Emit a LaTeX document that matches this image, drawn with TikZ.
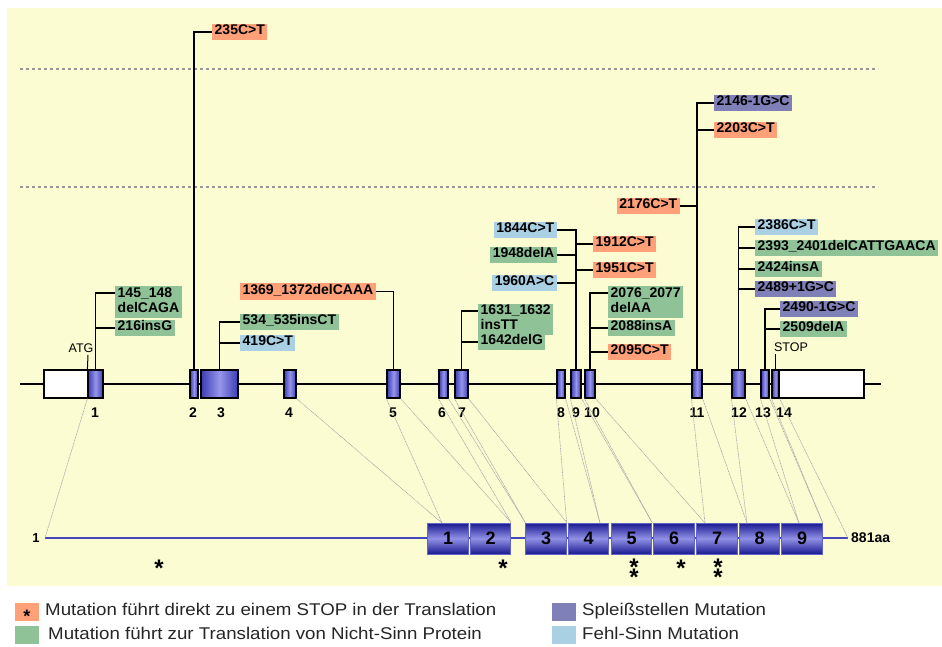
\documentclass[tikz,border=0pt]{standalone}
\usepackage{fontspec}
\usepackage{graphicx}
\setmainfont{Liberation Sans}
\usetikzlibrary{calc}
\definecolor{bgY}{RGB}{252,252,210}
\definecolor{cOr}{RGB}{255,160,120}
\definecolor{cGr}{RGB}{144,194,152}
\definecolor{cPu}{RGB}{128,128,184}
\definecolor{cBl}{RGB}{170,208,228}
\definecolor{exD}{RGB}{60,60,180}
\definecolor{exL}{RGB}{150,150,235}
\definecolor{prD}{RGB}{25,25,145}
\definecolor{prL}{RGB}{145,145,230}
\definecolor{prBd}{RGB}{100,100,200}
\definecolor{prLine}{RGB}{70,70,190}
\definecolor{dotG}{RGB}{165,165,165}
\definecolor{dashG}{RGB}{150,150,150}
\newcommand\mlabfont{\fontsize{14}{14}\selectfont\bfseries}
\newcommand\mnumfont{\fontsize{14}{14}\selectfont\bfseries}
\newcommand\mlegtext[1]{\scalebox{1.1}[1]{#1}}
\newcommand\mtwostars{\makebox[0pt]{*}\makebox[0pt]{\raisebox{-10pt}{*}}}
\begin{document}
\begin{tikzpicture}[x=1pt,y=-1pt,
  lab/.style={anchor=west, inner xsep=2.5pt, inner ysep=1pt, font=\mlabfont, execute at begin node=\strut},
  labE/.style={lab, anchor=east},
  labtwo/.style={anchor=west, inner xsep=2.5pt, inner ysep=1pt, font=\mlabfont, align=left},
  conn/.style={draw=black, line width=1.8pt},
  geneline/.style={draw=black, line width=1.5pt},
  exon/.style={draw=black, line width=1.2pt, minimum height=28pt, inner sep=0pt, left color=exD, right color=exD, middle color=exL},
  utr/.style={draw=black, line width=1.2pt, fill=white, minimum height=28pt, inner sep=0pt},
  enum/.style={font=\mnumfont, inner sep=0pt},
  small/.style={font=\fontsize{12.5}{12.5}\selectfont, inner sep=0pt},
  dashl/.style={draw=dashG, line width=1.5pt, dash pattern=on 3pt off 3pt},
  mapl/.style={draw=dotG, line width=0.6pt, dash pattern=on 1pt off 0.6pt},
  pbox/.style={draw=prBd, line width=0.8pt, minimum width=40.5pt, minimum height=31pt, inner sep=0pt, top color=prD, bottom color=prD, middle color=prL, font=\fontsize{18}{18}\selectfont\bfseries},
  protl/.style={draw=prLine, line width=2pt},
  astx/.style={font=\fontsize{24}{24}\selectfont\bfseries, anchor=base, inner sep=0pt},
  legsq/.style={minimum width=24pt, minimum height=18pt, inner sep=0pt},
  legtxt/.style={anchor=west, inner sep=0pt, font=\fontsize{17}{17}\selectfont, text=black!85, text height=12pt, text depth=4pt}
]
\useasboundingbox (0,0) rectangle (942,646);
\fill[white] (0,0) rectangle (942,646);
\fill[bgY] (7,8) rectangle (942,586);

% dashed guide lines
\coordinate (d1L) at (20,69); \coordinate (d1R) at (878,69);
\coordinate (d2L) at (20,187); \coordinate (d2R) at (878,187);
\draw[dashl] (d1L) -- (d1R);
\draw[dashl] (d2L) -- (d2R);

% gene line
\coordinate (gL) at (20,384); \coordinate (gR) at (881,384);
\draw[geneline] (gL) -- (gR);

% exons
\node[utr, minimum width=44pt] (u5) at (66,384) {};
\node[exon, minimum width=15pt] (e1) at (95.5,384) {};
\node[exon, minimum width=8pt] (e2) at (194,384) {};
\node[exon, minimum width=37pt] (e3) at (219.5,384) {};
\node[exon, minimum width=12pt] (e4) at (290,384) {};
\node[exon, minimum width=13pt] (e5) at (393.5,384) {};
\node[exon, minimum width=9pt] (e6) at (443.5,384) {};
\node[exon, minimum width=13pt] (e7) at (461.5,384) {};
\node[exon, minimum width=8pt] (e8) at (561,384) {};
\node[exon, minimum width=10pt] (e9) at (576,384) {};
\node[exon, minimum width=10pt] (e10) at (590,384) {};
\node[exon, minimum width=10pt] (e11) at (697,384) {};
\node[exon, minimum width=13pt] (e12) at (738.5,384) {};
\node[exon, minimum width=8pt] (e13) at (765,384) {};
\node[utr, minimum width=85pt] (u3) at (821.5,384) {};
\node[exon, minimum width=7pt] (e14) at (775.5,384) {};

% exon numbers
\node[enum] (n1) at (95,413) {1};
\node[enum] (n2) at (193,413) {2};
\node[enum] (n3) at (221,413) {3};
\node[enum] (n4) at (289,413) {4};
\node[enum] (n5) at (393,413) {5};
\node[enum] (n6) at (442,413) {6};
\node[enum] (n7) at (462,413) {7};
\node[enum] (n8) at (561,413) {8};
\node[enum] (n9) at (576,413) {9};
\node[enum] (n10) at (592,413) {10};
\node[enum] (n11) at (697,413) {11};
\node[enum] (n12) at (739,413) {12};
\node[enum] (n13) at (763,413) {13};
\node[enum] (n14) at (784,413) {14};

% ATG / STOP
\coordinate (atgT) at (88,355);
\draw[line width=1pt] (e1.north west) -- (atgT);
\node[small] (atg) at (81,348) {ATG};
\coordinate (stopT) at (775.5,354);
\draw[line width=1pt] (e14.north) -- (stopT);
\node[small] (stop) at (791,347) {STOP};

% mutation labels
\node[lab,fill=cOr] (m235) at (212,32) {235C>T};
\node[labtwo,fill=cGr] (m145) at (115,302) {\strut 145\_148\\delCAGA\strut};
\node[lab,fill=cGr] (m216) at (115,328) {216insG};
\node[lab,fill=cGr] (m534) at (240,322) {534\_535insCT};
\node[lab,fill=cBl] (m419) at (240,343) {419C>T};
\node[labE,fill=cOr] (m1369) at (376,291.5) {1369\_1372delCAAA};
\node[labtwo,fill=cGr] (m1631) at (478,319.5) {\strut 1631\_1632\\insTT\strut};
\node[lab,fill=cGr] (m1642) at (478,342) {1642delG};
\node[labE,fill=cBl] (m1844) at (557,230) {1844C>T};
\node[lab,fill=cOr] (m1912) at (593,244) {1912C>T};
\node[labE,fill=cGr] (m1948) at (557,255) {1948delA};
\node[lab,fill=cOr] (m1951) at (593,270) {1951C>T};
\node[labE,fill=cBl] (m1960) at (557,283) {1960A>C};
\node[labtwo,fill=cGr] (m2076) at (608,302) {\strut 2076\_2077\\delAA\strut};
\node[lab,fill=cGr] (m2088) at (608,328) {2088insA};
\node[lab,fill=cOr] (m2095) at (608,352) {2095C>T};
\node[lab,fill=cPu] (m2146) at (714,103) {2146-1G>C};
\node[lab,fill=cOr] (m2203) at (714,130) {2203C>T};
\node[labE,fill=cOr] (m2176) at (680,206) {2176C>T};
\node[lab,fill=cBl] (m2386) at (755,227) {2386C>T};
\node[lab,fill=cGr] (m2393) at (755,248) {2393\_2401delCATTGAACA};
\node[lab,fill=cGr] (m2424) at (755,269) {2424insA};
\node[lab,fill=cPu] (m2489) at (755,289) {2489+1G>C};
\node[lab,fill=cPu] (m2490) at (780,309) {2490-1G>C};
\node[lab,fill=cGr] (m2509) at (780,329) {2509delA};

% connectors
\draw[conn] (e2.north) |- (m235.west);
\draw[conn] (e1.north) |- ($(m145.north west)+(0,7)$);
\draw[conn] (m216.west) -- (m216.west -| e1.north);
\draw[conn] (e3.north) |- (m534.west);
\draw[conn] (m419.west) -- (m419.west -| e3.north);
\draw[conn] (e5.north) |- (m1369.east);
\draw[conn] (e7.north) |- ($(m1631.north west)+(0,7)$);
\draw[conn] (m1642.west) -- (m1642.west -| e7.north);
\draw[conn] (e9.north) |- (m1844.east);
\draw[conn] (m1912.west) -- (m1912.west -| e9.north);
\draw[conn] (m1948.east) -- (m1948.east -| e9.north);
\draw[conn] (m1951.west) -- (m1951.west -| e9.north);
\draw[conn] (m1960.east) -- (m1960.east -| e9.north);
\draw[conn] (e10.north) |- ($(m2076.north west)+(0,7)$);
\draw[conn] (m2088.west) -- (m2088.west -| e10.north);
\draw[conn] (m2095.west) -- (m2095.west -| e10.north);
\draw[conn] (e11.north) |- (m2146.west);
\draw[conn] (m2203.west) -- (m2203.west -| e11.north);
\draw[conn] (m2176.east) -- (m2176.east -| e11.north);
\draw[conn] (e12.north) |- (m2386.west);
\draw[conn] (m2393.west) -- (m2393.west -| e12.north);
\draw[conn] (m2424.west) -- (m2424.west -| e12.north);
\draw[conn] (m2489.west) -- (m2489.west -| e12.north);
\draw[conn] (e13.north) |- (m2490.west);
\draw[conn] (m2509.west) -- (m2509.west -| e13.north);

% protein
\coordinate (pS) at (45,538); \coordinate (pE) at (848,538);
\coordinate (q442) at (442,523); \coordinate (q600) at (600,523);
\coordinate (q705) at (705,523); \coordinate (q747) at (747,523);
\coordinate (q799) at (799,523);
\draw[protl] (pS) -- (pE);
\node[pbox] (p1) at (448,538.5) {1};
\node[pbox] (p2) at (490.5,538.5) {2};
\node[pbox] (p3) at (546,538.5) {3};
\node[pbox] (p4) at (588.5,538.5) {4};
\node[pbox] (p5) at (631.5,538.5) {5};
\node[pbox] (p6) at (674,538.5) {6};
\node[pbox] (p7) at (717,538.5) {7};
\node[pbox] (p8) at (759.5,538.5) {8};
\node[pbox] (p9) at (802,538.5) {9};
\node[font=\fontsize{13}{13}\selectfont\bfseries, inner sep=0pt] (pone) at (36,538) {1};
\node[font=\fontsize{14}{14}\selectfont\bfseries, anchor=west, inner sep=0pt] (paa) at (851,538) {881aa};

% mapping lines exon -> protein
\draw[mapl] (e1.south west) -- (pS);
\draw[mapl] (e4.south east) -- (q442);
\draw[mapl] (e5.south west) -- (q442);
\draw[mapl] (e5.south east) -- (p2.north east);
\draw[mapl] (e6.south west) -- (p2.north east);
\draw[mapl] (e6.south east) -- (p3.north west);
\draw[mapl] (e7.south west) -- (p3.north west);
\draw[mapl] (e7.south east) -- (p3.north east);
\draw[mapl] (e8.south west) -- (p3.north east);
\draw[mapl] (e8.south east) -- (q600);
\draw[mapl] (e9.south west) -- (q600);
\draw[mapl] (e9.south east) -- (p5.north east);
\draw[mapl] (e10.south west) -- (p5.north east);
\draw[mapl] (e10.south east) -- (q705);
\draw[mapl] (e11.south west) -- (q705);
\draw[mapl] (e11.south east) -- (q747);
\draw[mapl] (e12.south west) -- (q747);
\draw[mapl] (e12.south east) -- (q799);
\draw[mapl] (e13.south west) -- (q799);
\draw[mapl] (e13.south east) -- (p9.north east);
\draw[mapl] (e14.south west) -- (p9.north east);
\draw[mapl] (e14.south east) -- (pE);

% stop asterisks
\node[astx] (s0) at (159,576.5) {*};
\node[astx] (s2) at (503,576.5) {*};
\node[astx] (s5) at (634,575.5) {\mtwostars};
\node[astx] (s6) at (681,576.5) {*};
\node[astx] (s7) at (718,575.5) {\mtwostars};

% legend
\node[legsq, fill=cOr] (lg1) at (27,612) {};
\node[font=\fontsize{18}{18}\selectfont\bfseries, anchor=base, inner sep=0pt] (lgs) at (27,622.5) {*};
\node[legtxt] (lt1) at (45,611) {\mlegtext{Mutation führt direkt zu einem STOP in der Translation}};
\node[legsq, fill=cGr] (lg2) at (27,635) {};
\node[legtxt] (lt2) at (48,635) {\mlegtext{Mutation führt zur Translation von Nicht-Sinn Protein}};
\node[legsq, fill=cPu] (lg3) at (564,612) {};
\node[legtxt] (lt3) at (582,611) {\mlegtext{Spleißstellen Mutation}};
\node[legsq, fill=cBl] (lg4) at (564,635) {};
\node[legtxt] (lt4) at (582,635) {\mlegtext{Fehl-Sinn Mutation}};
\end{tikzpicture}
\end{document}
